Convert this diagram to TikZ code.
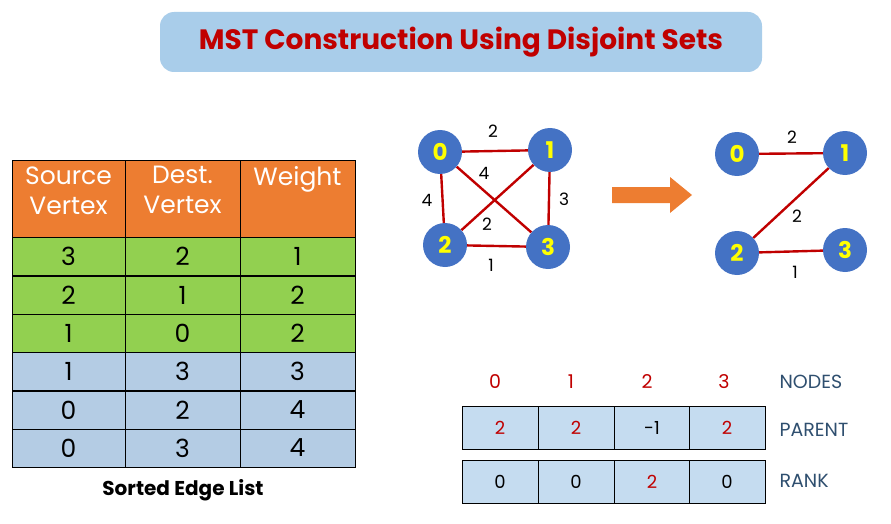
\documentclass[tikz,border=0pt]{standalone}
\usepackage{fontspec}
\setmainfont{Poppins}
\begin{document}
\begin{tikzpicture}[x=1pt,y=-1pt,
  vtx/.style={circle,fill=vblue,minimum size=44pt,inner sep=0pt,text=vyellow,font=\bfseries\fontsize{23}{23}\selectfont},
  ed/.style={draw=ered,line width=2.4pt},
  wl/.style={font=\fontsize{17}{17}\selectfont},
  cell/.style={draw=black,line width=1pt,minimum height=38pt,inner sep=0pt,font=\fontsize{25}{25}\selectfont},
  acell/.style={draw=black,line width=1pt,fill=cellblue,minimum width=76pt,minimum height=43pt,inner sep=0pt,font=\fontsize{18}{18}\selectfont},
  lab/.style={text=labc,font=\fontsize{19}{19}\selectfont,anchor=west}]
\definecolor{vblue}{HTML}{4472C4}
\definecolor{vyellow}{HTML}{FFFF00}
\definecolor{ered}{HTML}{C00000}
\definecolor{tblue}{HTML}{A9CDEA}
\definecolor{torange}{HTML}{ED7D31}
\definecolor{tgreen}{HTML}{92D050}
\definecolor{rblue}{HTML}{B4CCE4}
\definecolor{cellblue}{HTML}{C5DCF0}
\definecolor{labc}{HTML}{2F4F6F}
\useasboundingbox (0,0) rectangle (891,524);
\node[fill=tblue,rounded corners=14pt,minimum width=602pt,minimum height=60pt,text=ered,font=\bfseries\fontsize{28}{28}\selectfont] (title) at (461,42) {MST Construction Using Disjoint Sets};
% table
\foreach \x/\w [count=\i] in {68.5/113,182.5/115,297.5/115}{
  \node[cell,fill=torange,minimum width=\w pt,minimum height=77pt] (h\i) at (\x,198.5) {};
}
\node[text=white,align=center,font=\fontsize{25}{30}\selectfont,anchor=north] (ht1) at (68.5,163) {Source\\Vertex};
\node[text=white,align=center,font=\fontsize{25}{30}\selectfont,anchor=north] (ht2) at (182.5,163) {Dest.\\Vertex};
\node[text=white,font=\fontsize{25}{30}\selectfont,anchor=north] (ht3) at (297.5,163) {Weight};
\foreach \a/\b/\c/\y/\col [count=\r] in {3/2/1/256.5/tgreen,2/1/2/295/tgreen,1/0/2/333/tgreen,1/3/3/371.5/rblue,0/2/4/410/rblue,0/3/4/448/rblue}{
  \node[cell,fill=\col,minimum width=113pt] (r\r a) at (68.5,\y) {\a};
  \node[cell,fill=\col,minimum width=115pt] (r\r b) at (182.5,\y) {\b};
  \node[cell,fill=\col,minimum width=115pt] (r\r c) at (297.5,\y) {\c};
}
\node[font=\bfseries\fontsize{20}{20}\selectfont] (cap) at (183,490) {Sorted Edge List};
% graph 1
\node[vtx] (a0) at (440,152) {0};
\node[vtx] (a1) at (550,150) {1};
\node[vtx] (a2) at (445,245) {2};
\node[vtx] (a3) at (548,247) {3};
\draw[ed] (a0)--(a1); \draw[ed] (a0)--(a2); \draw[ed] (a0)--(a3);
\draw[ed] (a1)--(a2); \draw[ed] (a1)--(a3); \draw[ed] (a2)--(a3);
\node[wl] (w1) at (493,131) {2};
\node[wl] (w2) at (484,173) {4};
\node[wl] (w3) at (427,200) {4};
\node[wl] (w4) at (564,199) {3};
\node[wl] (w5) at (487,224) {2};
\node[wl] (w6) at (491,265) {1};
% arrow
\fill[torange] (612,187)--(670,187)--(670,177)--(692,195)--(670,213)--(670,203)--(612,203)--cycle;
% graph 2
\node[vtx] (b0) at (737,154) {0};
\node[vtx] (b1) at (845,153) {1};
\node[vtx] (b2) at (737,253) {2};
\node[vtx] (b3) at (845,250) {3};
\draw[ed] (b0)--(b1); \draw[ed] (b1)--(b2); \draw[ed] (b2)--(b3);
\node[wl] (v1) at (792,137) {2};
\node[wl] (v2) at (797,216) {2};
\node[wl] (v3) at (795,272) {1};
% arrays
\foreach \v/\x in {0/495,1/571,2/647,3/724}{
  \node[text=ered,font=\fontsize{19}{19}\selectfont] (n\v) at (\x,382) {\v};
}
\node[lab] (nl) at (776,382) {NODES};
\foreach \v/\c/\x [count=\i] in {2/ered/500,2/ered/576,-1/black/652,2/ered/727}{
  \node[acell,text=\c] (p\i) at (\x,428) {\v};
}
\node[lab] (pl) at (776,430) {PARENT};
\foreach \v/\c/\x [count=\i] in {0/black/500,0/black/576,2/ered/652,0/black/727}{
  \node[acell,text=\c] (k\i) at (\x,481.5) {\v};
}
\node[lab] (kl) at (776,481) {RANK};
\end{tikzpicture}
\end{document}
